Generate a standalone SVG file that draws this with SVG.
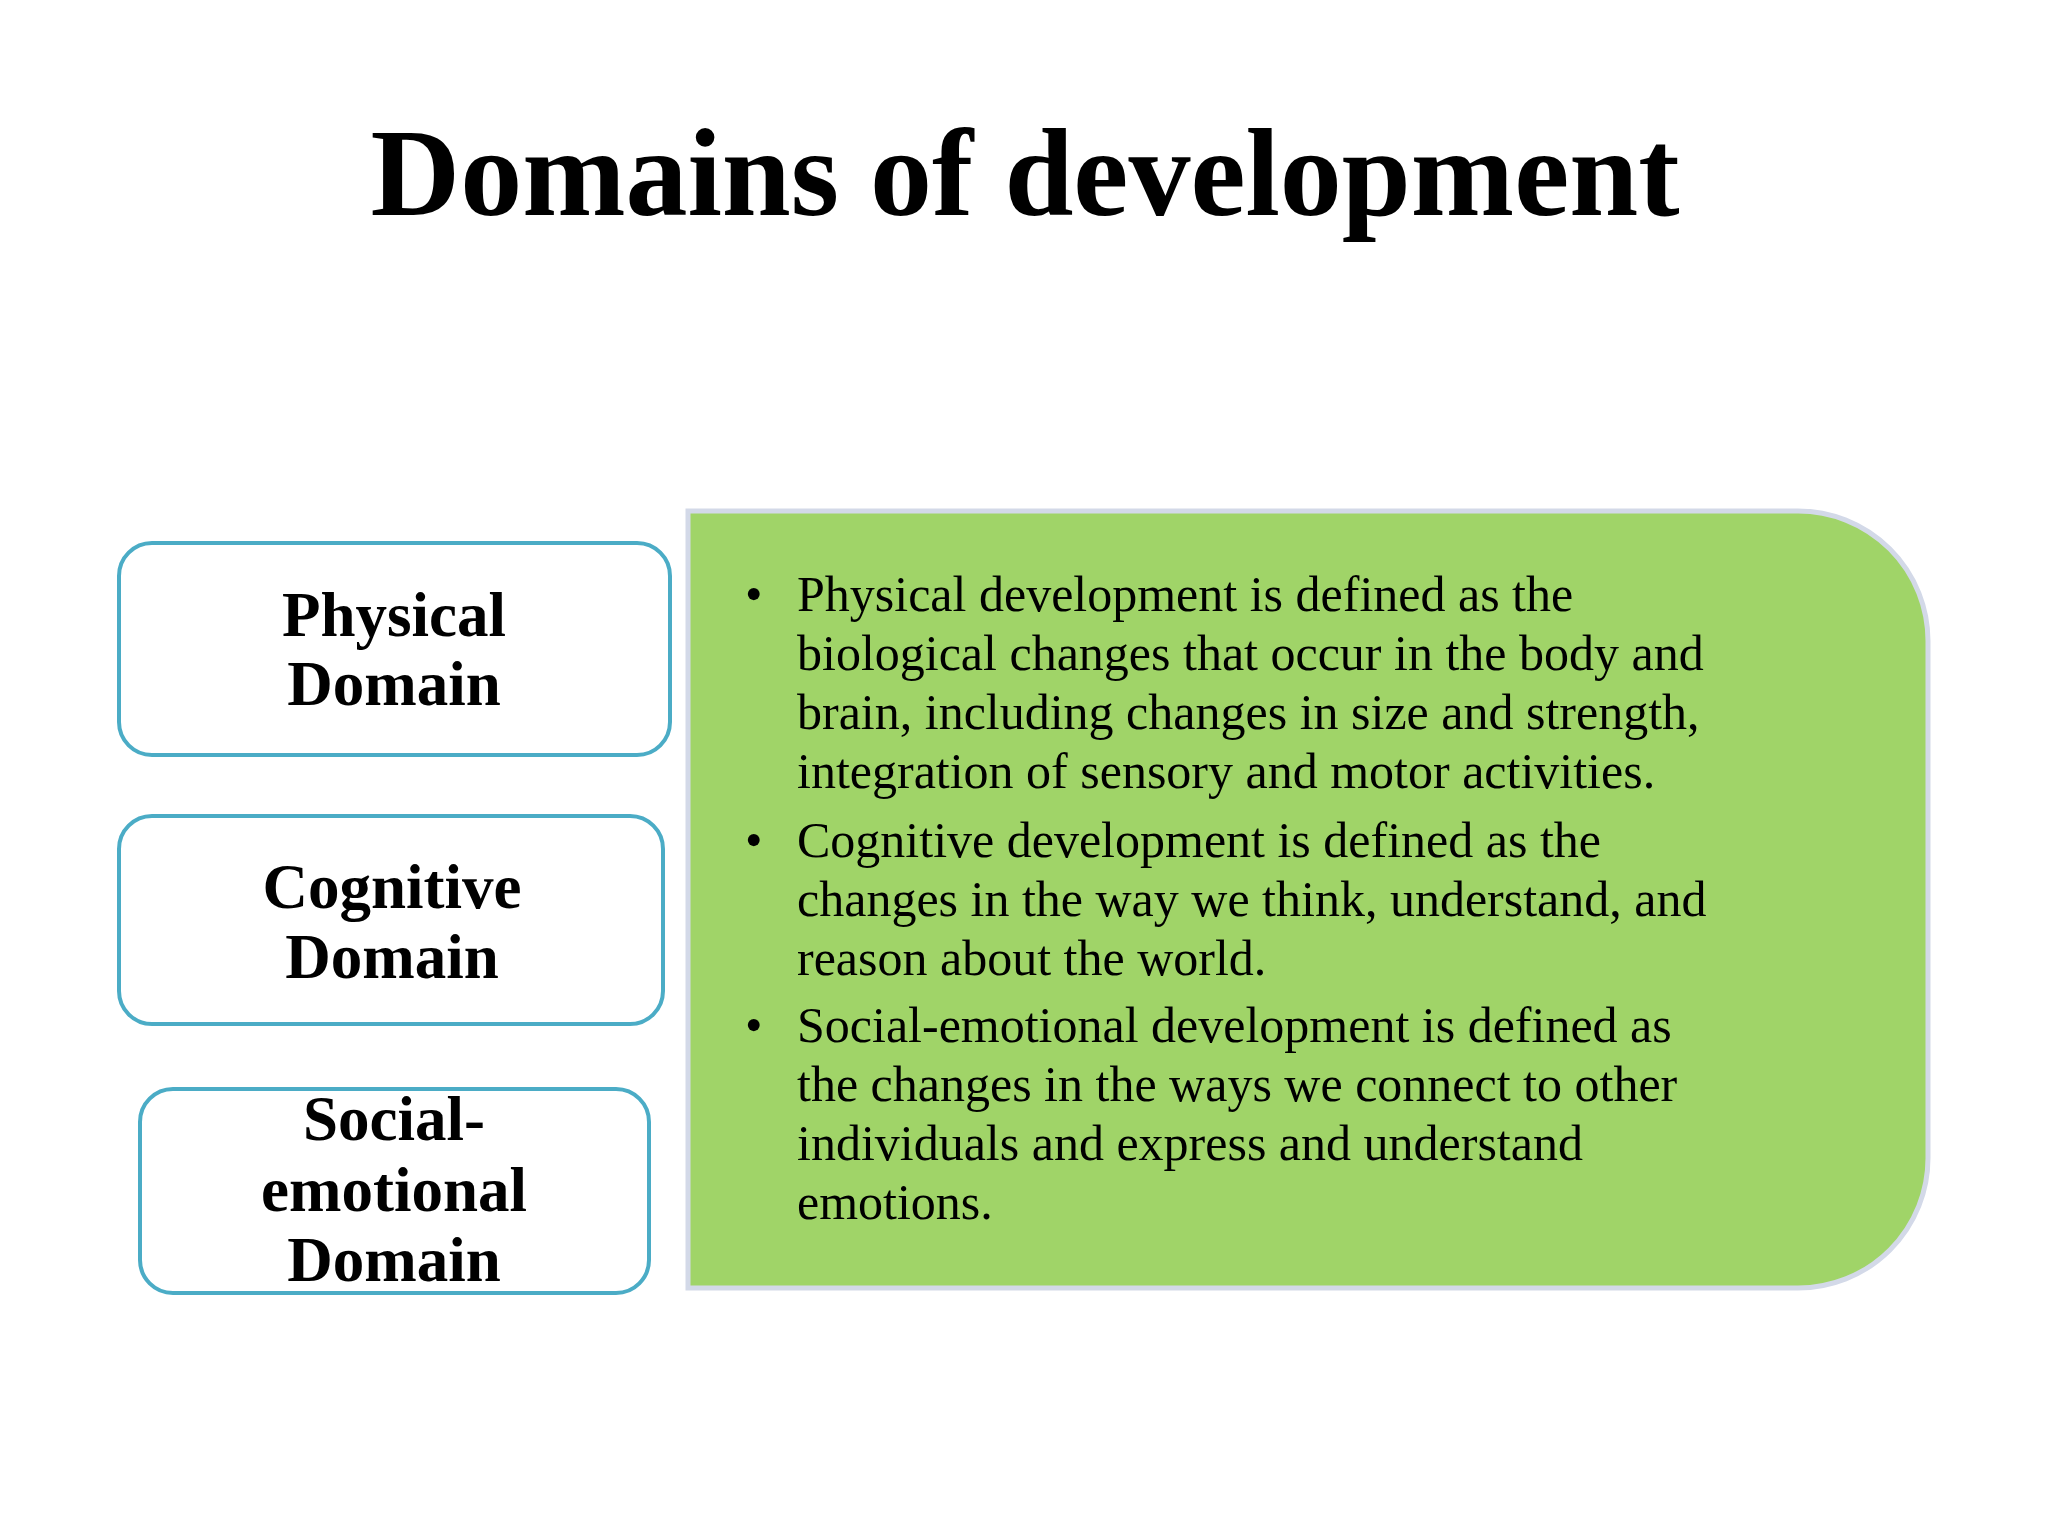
<svg xmlns="http://www.w3.org/2000/svg" width="2048" height="1536" viewBox="0 0 2048 1536">
<style>
.box{fill:#fff;stroke:#4BACC6;stroke-width:4}
.lbl{font-family:"Liberation Serif",serif;font-weight:bold;font-size:63px;text-anchor:middle;fill:#000}
.body{font-family:"Liberation Serif",serif;font-size:50px;fill:#000}
</style>
<rect width="2048" height="1536" fill="#fff"/>
<text x="1025" y="215" font-family="Liberation Serif, serif" font-weight="bold" font-size="124" text-anchor="middle">Domains of development</text>
<g id="physical"><rect class="box" x="119" y="543" width="551" height="212" rx="33"/>
<text class="lbl" x="394" y="636">Physical</text><text class="lbl" x="394" y="705">Domain</text></g>
<g id="cognitive"><rect class="box" x="119" y="816" width="544" height="208" rx="33"/>
<text class="lbl" x="392" y="908">Cognitive</text><text class="lbl" x="392" y="978">Domain</text></g>
<g id="social"><rect class="box" x="140" y="1089" width="509" height="204" rx="33"/>
<text class="lbl" x="394" y="1140">Social-</text><text class="lbl" x="394" y="1211">emotional</text><text class="lbl" x="394" y="1281">Domain</text></g>
<g id="details">
<path d="M688 511 H1798 A130 130 0 0 1 1928 641 V1158 A130 130 0 0 1 1798 1288 H688 Z" fill="#A0D468" stroke="#D3D9E8" stroke-width="5"/>
<g class="body">
<text x="745" y="611">•</text>
<text x="797" y="611">Physical development is defined as the</text>
<text x="797" y="670">biological changes that occur in the body and</text>
<text x="797" y="729">brain, including changes in size and strength,</text>
<text x="797" y="788">integration of sensory and motor activities.</text>
<text x="745" y="857">•</text>
<text x="797" y="857">Cognitive development is defined as the</text>
<text x="797" y="916">changes in the way we think, understand, and</text>
<text x="797" y="975">reason about the world.</text>
<text x="745" y="1042">•</text>
<text x="797" y="1042">Social-emotional development is defined as</text>
<text x="797" y="1101">the changes in the ways we connect to other</text>
<text x="797" y="1160">individuals and express and understand</text>
<text x="797" y="1219">emotions.</text>
</g></g>
<g id="connectors"/>
</svg>
